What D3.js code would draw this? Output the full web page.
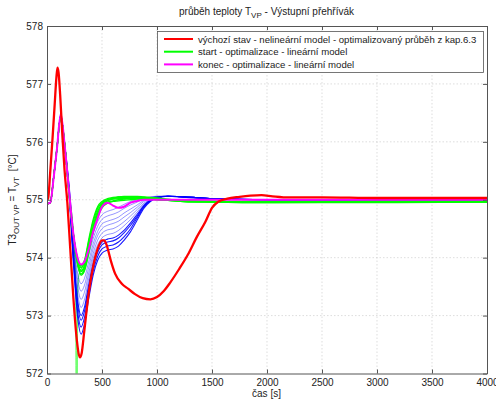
<!DOCTYPE html>
<html><head><meta charset="utf-8">
<script src="https://cdn.jsdelivr.net/npm/d3@7"></script>
<style>body{margin:0;background:#fff}svg{display:block;font-family:"Liberation Sans",Arial,sans-serif}</style>
</head><body><svg id="c" width="496" height="401"></svg>
<script>
const xTicks=[0,500,1000,1500,2000,2500,3000,3500,4000];
const yTicks=[572,573,574,575,576,577,578];
const legendLabels=["výchozí stav - nelineární model - optimalizovaný průběh z kap.6.3","start - optimalizace - lineární model","konec - optimalizace - lineární model"];

const redT=[0,10,30,50,70,85,95,105,120,140,160,185,210,240,270,290,300,315,340,380,420,460,500,520,545,580,620,680,740,800,870,940,1000,1060,1120,1200,1280,1360,1440,1500,1560,1640,1750,1850,1950,2050,2200,2500,3000,3500,4000];
const redV=[575.0,575.02,575.5,576.05,576.65,577.1,577.28,577.2,576.8,576.1,575.5,574.95,574.2,573.3,572.6,572.32,572.28,572.35,572.75,573.4,573.85,574.15,574.3,574.3,574.2,573.95,573.72,573.55,573.46,573.37,573.3,573.28,573.32,573.42,573.57,573.8,574.05,574.35,574.62,574.86,574.97,575.02,575.05,575.07,575.08,575.06,575.04,575.04,575.03,575.03,575.03];

const famT=[0,30,60,90,125,160,200,240,280,310,340,380,420,460,500,550,600,650,700,760,820,880,940,1000,1100,1250,1500,2000,3000,4000];
const magentaV=[574.93,574.95,575.37,575.87,576.48,575.95,575.15,574.4,573.98,573.88,573.93,574.15,574.45,574.68,574.88,574.95,574.9,574.86,574.88,574.95,574.98,575.0,575.0,575.0,575.0,575.0,575.0,575.0,575.0,575.0];

const blue1=[574.93,574.95,575.38,575.88,576.45,575.98,575.28,574.45,573.98,573.84,573.9,574.15,574.42,574.62,574.74,574.8,574.83,574.87,574.92,574.97,575.0,575.03,575.05,575.06,575.06,575.04,575.02,575.0,575.0,575.0];
const blue2=[574.93,574.95,575.38,575.88,576.45,575.98,575.26,574.38,573.86,573.70,573.77,574.05,574.33,574.54,574.66,574.72,574.75,574.79,574.85,574.91,574.96,575.01,575.04,575.06,575.06,575.04,575.02,575.0,575.0,575.0];
const blue3=[574.93,574.95,575.38,575.88,576.45,575.97,575.24,574.31,573.72,573.55,573.64,573.94,574.24,574.45,574.58,574.63,574.66,574.70,574.77,574.84,574.91,574.99,575.03,575.05,575.06,575.04,575.02,575.0,575.0,575.0];
const blue4=[574.93,574.95,575.38,575.88,576.45,575.97,575.23,574.25,573.61,573.42,573.52,573.84,574.16,574.38,574.50,574.56,574.59,574.63,574.70,574.78,574.87,574.97,575.02,575.05,575.06,575.04,575.02,575.0,575.0,575.0];
const blue5=[574.93,574.95,575.38,575.88,576.45,575.97,575.21,574.19,573.49,573.28,573.40,573.74,574.07,574.30,574.42,574.48,574.50,574.55,574.62,574.72,574.83,574.94,575.01,575.05,575.06,575.05,575.02,575.0,575.0,575.0];
const blue6=[574.93,574.95,575.38,575.88,576.45,575.96,575.19,574.12,573.36,573.14,573.27,573.64,573.99,574.22,574.34,574.40,574.42,574.47,574.55,574.66,574.79,574.92,575.00,575.04,575.06,575.05,575.02,575.0,575.0,575.0];
const blue7=[574.93,574.95,575.38,575.88,576.45,575.96,575.17,574.05,573.24,573.00,573.14,573.54,573.90,574.14,574.27,574.32,574.34,574.39,574.47,574.60,574.75,574.90,574.99,575.04,575.06,575.05,575.02,575.0,575.0,575.0];
const blue8=[574.93,574.95,575.38,575.88,576.45,575.96,575.16,574.02,573.17,572.92,573.07,573.48,573.85,574.09,574.22,574.27,574.29,574.34,574.43,574.56,574.72,574.89,574.99,575.04,575.06,575.05,575.02,575.0,575.0,575.0];
const blue9=[574.93,574.95,575.38,575.88,576.45,575.95,575.15,573.96,573.05,572.80,572.96,573.39,573.77,574.02,574.15,574.20,574.22,574.27,574.36,574.50,574.69,574.87,574.98,575.03,575.06,575.05,575.02,575.0,575.0,575.0];
const blue10=[574.93,574.95,575.38,575.88,576.45,575.95,575.13,573.9,572.95,572.68,572.85,573.3,573.7,573.95,574.08,574.13,574.15,574.2,574.3,574.45,574.65,574.85,574.97,575.03,575.06,575.05,575.02,575.0,575.0,575.0];

const green1=[574.93,574.95,575.38,575.88,576.43,575.97,575.12,574.4,573.93,573.78,573.86,574.2,574.55,574.8,574.93,575.0,575.03,575.04,575.04,575.04,575.04,575.04,575.03,575.02,575.0,574.98,574.97,574.96,574.97,574.97];
const green2=[574.93,574.95,575.38,575.88,576.43,575.97,575.12,574.4,573.88,573.72,573.8,574.12,574.48,574.74,574.9,574.98,575.02,575.05,575.06,575.06,575.06,575.05,575.04,575.03,575.01,574.98,574.97,574.96,574.97,574.97];
const green3=[574.93,574.95,575.38,575.88,576.43,575.97,575.12,574.4,573.95,573.83,573.92,574.28,574.62,574.85,574.95,575.0,575.01,575.02,575.02,575.03,575.03,575.02,575.02,575.01,574.99,574.97,574.96,574.96,574.96,574.97];
const green4=[574.93,574.95,575.38,575.88,576.43,575.97,575.12,574.4,573.9,573.76,573.83,574.16,574.5,574.76,574.9,574.96,574.98,575.0,575.01,575.02,575.02,575.02,575.01,575.0,574.99,574.97,574.96,574.95,574.96,574.96];
const green5=[574.93,574.95,575.38,575.88,576.43,575.97,575.12,574.4,573.97,573.86,573.95,574.32,574.66,574.88,574.97,575.02,575.04,575.05,575.05,575.05,575.05,575.04,575.03,575.02,575.0,574.98,574.97,574.97,574.97,574.97];
const green6=[574.93,574.95,575.38,575.88,576.43,575.97,575.12,574.4,573.86,573.7,573.77,574.08,574.44,574.7,574.86,574.94,574.97,574.98,574.99,575.0,575.01,575.01,575.01,575.0,574.99,574.97,574.96,574.95,574.95,574.96];
const greenSpikeT=[0,30,60,90,125,160,200,240,262,270,276,290,310,340,380,420,460,500,550,600,700,820,940,1100,1500,2000,3000,4000];
const greenSpikeV=[574.93,574.95,575.38,575.88,576.43,575.97,575.12,574.4,573.4,566.0,573.3,573.7,573.8,573.88,574.22,574.56,574.8,574.93,574.99,575.02,575.03,575.03,575.02,575.0,574.97,574.96,574.97,574.97];

const svg=d3.select("#c");
const L=47,R=487,T=26,B=373.5;
const x=d3.scaleLinear().domain([0,4000]).range([L,R]);
const y=d3.scaleLinear().domain([572,578]).range([B,T]);

// grid
const g=svg.append("g");
g.selectAll(".gx").data(xTicks.slice(1,-1)).enter().append("line")
 .attr("x1",d=>x(d)).attr("x2",d=>x(d)).attr("y1",T).attr("y2",B)
 .attr("stroke","#c8c8c8").attr("stroke-width",0.6).attr("stroke-dasharray","1.5,2");
g.selectAll(".gy").data(yTicks.slice(1,-1)).enter().append("line")
 .attr("y1",d=>y(d)).attr("y2",d=>y(d)).attr("x1",L).attr("x2",R)
 .attr("stroke","#c8c8c8").attr("stroke-width",0.6).attr("stroke-dasharray","1.5,2");

svg.append("clipPath").attr("id","clip").append("rect").attr("x",L).attr("y",T).attr("width",R-L).attr("height",B-T);
const plot=svg.append("g").attr("clip-path","url(#clip)");
const line=(ts)=>d3.line().x((d,i)=>x(ts[i])).y(d=>y(d)).curve(d3.curveMonotoneX);

plot.append("path").datum(greenSpikeV).attr("d",line(greenSpikeT)).attr("fill","none").attr("stroke","#00ff00").attr("stroke-width",0.8);
[blue1,blue2,blue3,blue4,blue5,blue6,blue7,blue8,blue9,blue10].forEach((s,i)=>{
  plot.append("path").datum(s).attr("d",line(famT)).attr("fill","none")
   .attr("stroke","#0000ff").attr("stroke-width",i>=6?1.1:0.7).attr("stroke-opacity",i>=6?0.9:0.6);
});
[green1,green2,green3,green4,green5,green6].forEach(s=>{
  plot.append("path").datum(s).attr("d",line(famT)).attr("fill","none").attr("stroke","#00ff00").attr("stroke-width",1.3);
});
plot.append("path").datum(magentaV).attr("d",line(famT)).attr("fill","none").attr("stroke","#ff00ff").attr("stroke-width",2);
plot.append("path").datum(redV).attr("d",line(redT)).attr("fill","none").attr("stroke","#ff0000").attr("stroke-width",2.3);

// axes
const fmt=d3.format("d");
const axB=svg.append("g").attr("transform",`translate(0,${B})`).call(d3.axisBottom(x).tickValues(xTicks).tickFormat(fmt).tickSizeInner(-4).tickSizeOuter(0).tickPadding(5));
const axT=svg.append("g").attr("transform",`translate(0,${T})`).call(d3.axisTop(x).tickValues(xTicks).tickFormat("").tickSizeInner(-4).tickSizeOuter(0));
const axL=svg.append("g").attr("transform",`translate(${L},0)`).call(d3.axisLeft(y).tickValues(yTicks).tickFormat(fmt).tickSizeInner(-4).tickSizeOuter(0).tickPadding(4));
const axR=svg.append("g").attr("transform",`translate(${R},0)`).call(d3.axisRight(y).tickValues(yTicks).tickFormat("").tickSizeInner(-4).tickSizeOuter(0));
[axB,axT,axL,axR].forEach(a=>{a.select(".domain").attr("stroke","#555");a.selectAll(".tick line").attr("stroke","#555");
  a.selectAll("text").attr("fill","#222").attr("font-size",10).attr("font-family","Liberation Sans, Arial, sans-serif");});

// legend
const lg=svg.append("g");
lg.append("rect").attr("x",157.5).attr("y",31.5).attr("width",326).attr("height",41).attr("fill","#fff").attr("stroke","#555").attr("stroke-width",0.8);
const lc=["#ff0000","#00ff00","#ff00ff"];
legendLabels.forEach((t,i)=>{
  const yy=39+i*12.7;
  lg.append("line").attr("x1",164).attr("x2",193).attr("y1",yy).attr("y2",yy).attr("stroke",lc[i]).attr("stroke-width",2);
  lg.append("text").attr("x",198).attr("y",yy+3.5).attr("font-size",9.6).attr("fill","#222").text(t);
});

// title
const tt=svg.append("text").attr("x",266.5).attr("y",15).attr("text-anchor","middle").attr("font-size",10).attr("fill","#222");
tt.append("tspan").text("průběh teploty T");
tt.append("tspan").attr("dy",3).attr("font-size",8).text("VP");
tt.append("tspan").attr("dy",-3).text(" - Výstupní přehřívák");

// x label
svg.append("text").attr("x",266.5).attr("y",397).attr("text-anchor","middle").attr("font-size",10).attr("fill","#222").text("čas [s]");

// y label
const yl=svg.append("text").attr("transform","translate(16,200) rotate(-90)").attr("text-anchor","middle").attr("font-size",10).attr("fill","#222");
yl.append("tspan").text("T3");
yl.append("tspan").attr("dy",3).attr("font-size",8).text("OUT VP");
yl.append("tspan").attr("dy",-3).text(" = T");
yl.append("tspan").attr("dy",3).attr("font-size",8).text("VT");
yl.append("tspan").attr("dy",-3).text("\u00a0\u00a0[°C]");
</script></body></html>
